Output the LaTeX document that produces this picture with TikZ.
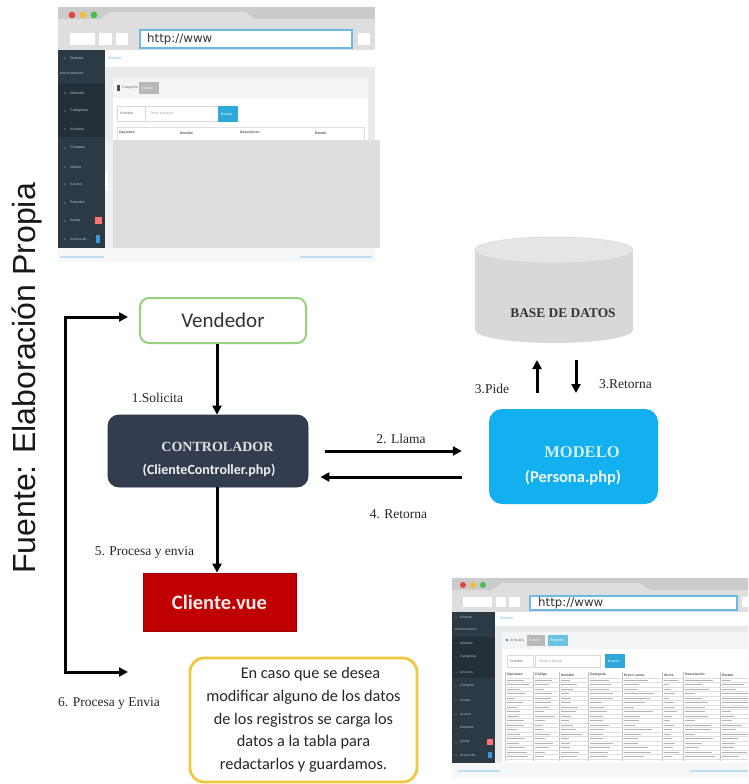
\documentclass[tikz,border=0pt]{standalone}
\usepackage{fontspec}
\setmainfont{Liberation Serif}
\newfontfamily\calfont{Carlito}
\newfontfamily\arialfont{Liberation Sans}
\newfontfamily\dejafont{DejaVu Sans}
\usetikzlibrary{arrows.meta}

\definecolor{ctrlfill}{RGB}{50,62,80}
\definecolor{modfill}{RGB}{18,176,238}
\definecolor{clifill}{RGB}{192,0,0}
\definecolor{vendline}{RGB}{150,210,125}
\definecolor{noteline}{RGB}{240,200,60}
\definecolor{dbbody}{RGB}{216,216,216}
\definecolor{dbtop}{RGB}{229,229,229}
\definecolor{sidebar}{RGB}{44,58,69}
\definecolor{sidebarhi}{RGB}{35,47,57}
\definecolor{chrome}{RGB}{222,222,222}
\definecolor{chromedark}{RGB}{203,203,203}
\definecolor{pagegray}{RGB}{233,234,235}
\definecolor{lowgray}{RGB}{222,222,222}
\definecolor{panelhead}{RGB}{243,244,246}
\definecolor{btnblue}{RGB}{46,168,216}
\definecolor{urlblue}{RGB}{110,185,228}
\definecolor{menutext}{RGB}{185,194,202}
\definecolor{footgray}{RGB}{246,247,248}
\definecolor{dotred}{RGB}{226,72,64}
\definecolor{dotyellow}{RGB}{240,190,60}
\definecolor{dotgreen}{RGB}{70,190,80}

\tikzset{
  arr/.style={line width=3pt, -{Triangle[length=9pt,width=9pt]}},
  looparr/.style={line width=3pt, {Triangle[length=9pt,width=9pt]}-{Triangle[length=9pt,width=9pt]}},
  lbl/.style={font=\fontsize{13.5}{16}\selectfont, text=black!85, inner sep=0pt},
  menu/.style={font=\arialfont\fontsize{3.6}{4}\selectfont, text=menutext, anchor=west, inner sep=0pt},
  tinytxt/.style={font=\arialfont\fontsize{3.6}{4}\selectfont, text=black!55, anchor=west, inner sep=0pt},
  tinyhead/.style={font=\arialfont\bfseries\fontsize{3.4}{4}\selectfont, text=black!70, anchor=west, inner sep=0pt},
  urltxt/.style={font=\dejafont\fontsize{11.8}{12}\selectfont, text=black!80, anchor=west, inner sep=0pt},
  vendbox/.style={draw=vendline, line width=2pt, fill=white, rounded corners=9pt,
    minimum width=166pt, minimum height=45pt, inner sep=0pt,
    font=\calfont\fontsize{21}{24}\selectfont, text=black!80},
  ctrlbox/.style={fill=ctrlfill, draw=ctrlfill!85!black, line width=0.8pt, rounded corners=11pt,
    minimum width=200pt, minimum height=72pt, inner sep=0pt},
  modbox/.style={fill=modfill, rounded corners=13pt, minimum width=169pt, minimum height=95pt, inner sep=0pt},
  clibox/.style={fill=clifill, draw=clifill!80!black, line width=0.8pt, minimum width=153pt, minimum height=58pt,
    inner sep=0pt, font=\calfont\bfseries\fontsize{20.5}{24}\selectfont, text=white!92!red},
  notebox/.style={draw=noteline, line width=2.8pt, fill=white, rounded corners=14pt,
    minimum width=227pt, minimum height=124pt, inner sep=0pt, align=center,
    font=\calfont\fontsize{16.3}{22.7}\selectfont, text=black!85},
}

\begin{document}
\begin{tikzpicture}[x=1pt,y=-1pt]
\useasboundingbox (0,0) rectangle (748,784);
\fill[white] (0,0) rectangle (748,784);

\begin{scope}
\clip (0,0) rectangle (748,784);

% ---------- upper browser window ----------
\fill[chrome] (58,7) rectangle (375,50);
\fill[chromedark] (58,7) rectangle (375,19);
\fill[chrome] (100,19) -- (110,12) -- (245,12) -- (255,19) -- cycle;
\fill[dotred] (72,15) circle[radius=3.4];
\fill[dotyellow] (83,15) circle[radius=3.4];
\fill[dotgreen] (94,15) circle[radius=3.4];
\fill[white] (70,33) rectangle (95,45);
\fill[white] (99,33) rectangle (112,45);
\fill[white] (116,33) rectangle (128,45);
\fill[white] (358,33) rectangle (370,45);
\draw[urlblue, line width=1.3pt, fill=white] (140,30) rectangle (352,48);
\node[urltxt] (url1) at (147,39) {http://www};

\fill[sidebar] (58,50) rectangle (105,248);
\fill[sidebarhi] (58,83) rectangle (105,137);
\node[menu, font=\arialfont\fontsize{2.8}{3}\selectfont] (m1h) at (60,74) {MANTENIMIENTO};
\foreach \itm/\yy [count=\i] in {Sistema/58, {Almacén}/93, {Categorías}/111, {Artículos}/129, Compras/148,
    Ventas/167, Acceso/184, Reportes/203, Ayuda/221, {Acerca de\ldots}/239}{
  \fill[menutext] (65,\yy) circle[radius=0.6];
  \node[menu] (m1\i) at (70,\yy) {\itm};
}
\fill[red!55] (95,217) rectangle (102,224);
\fill[cyan!70!blue!80] (96,235) rectangle (100,243);

\fill[white] (105,50) rectangle (375,67);
\node[menu, text=urlblue] (s1) at (108,58) {Sistema};
\fill[pagegray] (105,67) rectangle (375,140);
\fill[panelhead] (113,78) rectangle (368,98);
\fill[black!70] (117,85) rectangle (119.5,91);
\node[tinytxt] (c1) at (122,88) {Categoría};
\fill[black!28] (139,82) rectangle (159,94);
\node[tinytxt, text=white] (n1) at (142,88) {Nuevo};
\fill[white] (113,98) rectangle (368,140);
\draw[black!15, line width=0.4pt] (117,106) rectangle (145,121);
\node[tinytxt] (o1) at (120,113.5) {Nombre};
\draw[black!15, line width=0.4pt] (145,106) rectangle (218,121);
\node[tinytxt, text=black!35] (q1) at (150,113.5) {Texto a buscar};
\fill[btnblue] (218,106) rectangle (238,122);
\node[tinytxt, text=white] (b1) at (221,114) {Buscar};
\draw[black!12, line width=0.4pt] (117,127) rectangle (364,140);
\node[tinyhead] (h11) at (119,133) {Opciones};
\node[tinyhead] (h12) at (180,133) {Nombre};
\node[tinyhead] (h13) at (240,133) {Descripción};
\node[tinyhead] (h14) at (315,133) {Estado};
\fill[black!6] (105,140) rectangle (113,248);
\fill[white] (105,172) rectangle (108,190);
\fill[lowgray] (113,140) rectangle (380,248);
\fill[footgray] (58,248) rectangle (375,262);
\fill[urlblue!45] (60,255.5) rectangle (104,257.5);
\fill[urlblue!45] (300,255.5) rectangle (372,257.5);

% ---------- lower browser window ----------
\fill[chrome] (452,578) rectangle (760,612);
\fill[chromedark] (452,578) rectangle (760,590);
\fill[chrome] (492,590) -- (502,583) -- (640,583) -- (650,590) -- cycle;
\fill[dotred] (463,585) circle[radius=3];
\fill[dotyellow] (473,585) circle[radius=3];
\fill[dotgreen] (483,585) circle[radius=3];
\fill[white] (463,597) rectangle (492,607);
\fill[white] (496,597) rectangle (506,607);
\fill[white] (509,597) rectangle (520,607);
\fill[white] (742,597) rectangle (760,607);
\draw[urlblue, line width=1.3pt, fill=white] (530,596) rectangle (737,610);
\node[urltxt] (url2) at (538,603) {http://www};

\fill[sidebar] (452,612) rectangle (495,763);
\fill[sidebarhi] (452,637) rectangle (495,678);
\node[menu, font=\arialfont\fontsize{2.6}{3}\selectfont] (m2h) at (455,630) {MANTENIMIENTO};
\foreach \itm/\yy [count=\i] in {Sistema/617, {Almacén}/643, {Categorías}/657, {Artículos}/672, Compras/686,
    Ventas/700, Acceso/714, Reportes/728, Ayuda/742, {Acerca de\ldots}/755}{
  \fill[menutext] (456,\yy) circle[radius=0.5];
  \node[menu, font=\arialfont\fontsize{3.3}{4}\selectfont] (m2\i) at (460,\yy) {\itm};
}
\fill[red!55] (487,739) rectangle (493,745);
\fill[cyan!70!blue!80] (488,752) rectangle (492,758);

\fill[white] (495,612) rectangle (760,626);
\node[menu, text=urlblue] (s2) at (500,618) {Sistema};
\fill[pagegray] (495,626) rectangle (760,763);
\fill[panelhead] (502,632) rectangle (760,649);
\fill[black!70] (507,640) circle[radius=1.2];
\node[tinytxt] (c2) at (510,640) {Artículos};
\fill[black!28] (527,635) rectangle (545,646);
\node[tinytxt, text=white] (n2) at (529,640.5) {Nuevo};
\fill[btnblue!70] (548,635) rectangle (568,646);
\node[tinytxt, text=white] (r2) at (550,640.5) {Reporte};
\fill[white] (502,649) rectangle (760,763);
\draw[black!15, line width=0.4pt] (507,655) rectangle (533,667);
\node[tinytxt] (o2) at (510,661) {Nombre};
\draw[black!15, line width=0.4pt] (535,655) rectangle (600,667);
\node[tinytxt, text=black!35] (q2) at (539,661) {Texto a buscar};
\fill[btnblue] (605,654) rectangle (625,668);
\node[tinytxt, text=white] (b2) at (608,661) {Buscar};

% data table
\foreach \hx/\hdr [count=\i] in {507/Opciones, 535/{Código}, 561/Nombre, 590/{Categoría},
    624/Precio venta, 664/Stock, 685/{Descripción}, 722/Estado}{
  \node[tinyhead] (h2\i) at (\hx,675) {\hdr};
}
\foreach \vx in {505,533,559,588,622,662,683,720}{
  \draw[black!25, line width=0.4pt] (\vx,672) -- (\vx,761);
}
\foreach \rw in {0,...,18}{
  \draw[black!13, line width=0.3pt] (505,{678+4.5*\rw}) -- (760,{678+4.5*\rw});
}
\pgfmathsetseed{11}
\foreach \cx/\cw in {507/24,535/22,561/24,590/28,624/34,664/16,685/32,722/30}{
  \foreach \rw in {0,...,17}{
    \pgfmathsetmacro\barlen{\cw*(0.3+0.65*rnd)}
    \fill[black!30] (\cx,{679.5+4.5*\rw}) rectangle ++(\barlen,1.4);
  }
}
\fill[footgray] (452,763) rectangle (760,778);
\fill[urlblue!45] (458,770) rectangle (500,772);
\fill[urlblue!45] (690,770) rectangle (748,772);
\end{scope}

% ---------- side caption ----------
\node[rotate=90, anchor=base west, inner sep=0pt, font=\arialfont\fontsize{32}{36}\selectfont,
  text=black!90] (fuente) at (35,574) {Fuente: Elaboración Propia};

% ---------- database ----------
\fill[dbbody] (554,330) ellipse[x radius=79, y radius=13];
\fill[dbbody] (475,250) rectangle (633,330);
\filldraw[fill=dbtop, draw=black!16, line width=0.6pt] (554,250) ellipse[x radius=79, y radius=13];
\node[font=\bfseries\fontsize{13.4}{16}\selectfont, text=black!80, inner sep=0pt] (db) at (563,313) {BASE DE DATOS};

% ---------- main blocks ----------
\node[vendbox] (vend) at (223,320.5) {Vendedor};
\node[ctrlbox] (ctrl) at (208,451) {};
\node[font=\bfseries\fontsize{14}{16}\selectfont, text=black!12, inner sep=0pt] (ctrlT) at (217.5,447) {CONTROLADOR};
\node[font=\calfont\bfseries\fontsize{14}{16}\selectfont, text=black!6, inner sep=0pt] (ctrlF) at (209,470) {(ClienteController.php)};
\node[modbox] (mod) at (573.5,456.5) {};
\node[font=\bfseries\fontsize{16.5}{18}\selectfont, text=cyan!18, inner sep=0pt] (modT) at (582,452) {MODELO};
\node[font=\calfont\bfseries\fontsize{16.5}{18}\selectfont, text=white!94!cyan, inner sep=0pt] (modF) at (573,478) {(Persona.php)};
\node[clibox] (cli) at (219.5,602) {Cliente.vue};
\node[notebox] (nota) at (303.5,720) {\hspace*{14pt}En caso que se desea\\modificar alguno de los datos\\de los registros se carga los\\datos a la tabla para\\redactarlos y guardamos.};

% ---------- connectors ----------
\coordinate (colx) at (217,0);
\draw[arr] (vend.south -| colx) -- (ctrl.north -| colx);
\draw[arr] (ctrl.south -| colx) -- (cli.north -| colx);
\draw[arr] ([xshift=17pt]ctrl.east) -- ([xshift=-27pt]ctrl.east -| mod.west);
\draw[arr] ([xshift=-27pt,yshift=-26pt]ctrl.east -| mod.west) -- ([xshift=12pt,yshift=-26pt]ctrl.east);

\coordinate (pideA) at (537,393);
\coordinate (pideB) at (537,360);
\coordinate (retA) at (576,360);
\coordinate (retB) at (576,393);
\draw[arr] (pideA) -- (pideB);
\draw[arr] (retA) -- (retB);

\coordinate (loopA) at (128,317);
\coordinate (loopB) at (128,672);
\draw[looparr] (loopA) -- ++(-63,0) |- (loopB);

% ---------- labels ----------
\node[lbl] (l1) at (157.5,398) {1.Solicita};
\node[lbl] (l2) at (401,439) {2. Llama};
\node[lbl] (l3a) at (492,389) {3.Pide};
\node[lbl] (l3b) at (625.5,384) {3.Retorna};
\node[lbl] (l4) at (398.5,514) {4. Retorna};
\node[lbl] (l5) at (144.5,552) {5. Procesa y envia};
\node[lbl] (l6) at (109,703) {6. Procesa y Envia};
\end{tikzpicture}
\end{document}
